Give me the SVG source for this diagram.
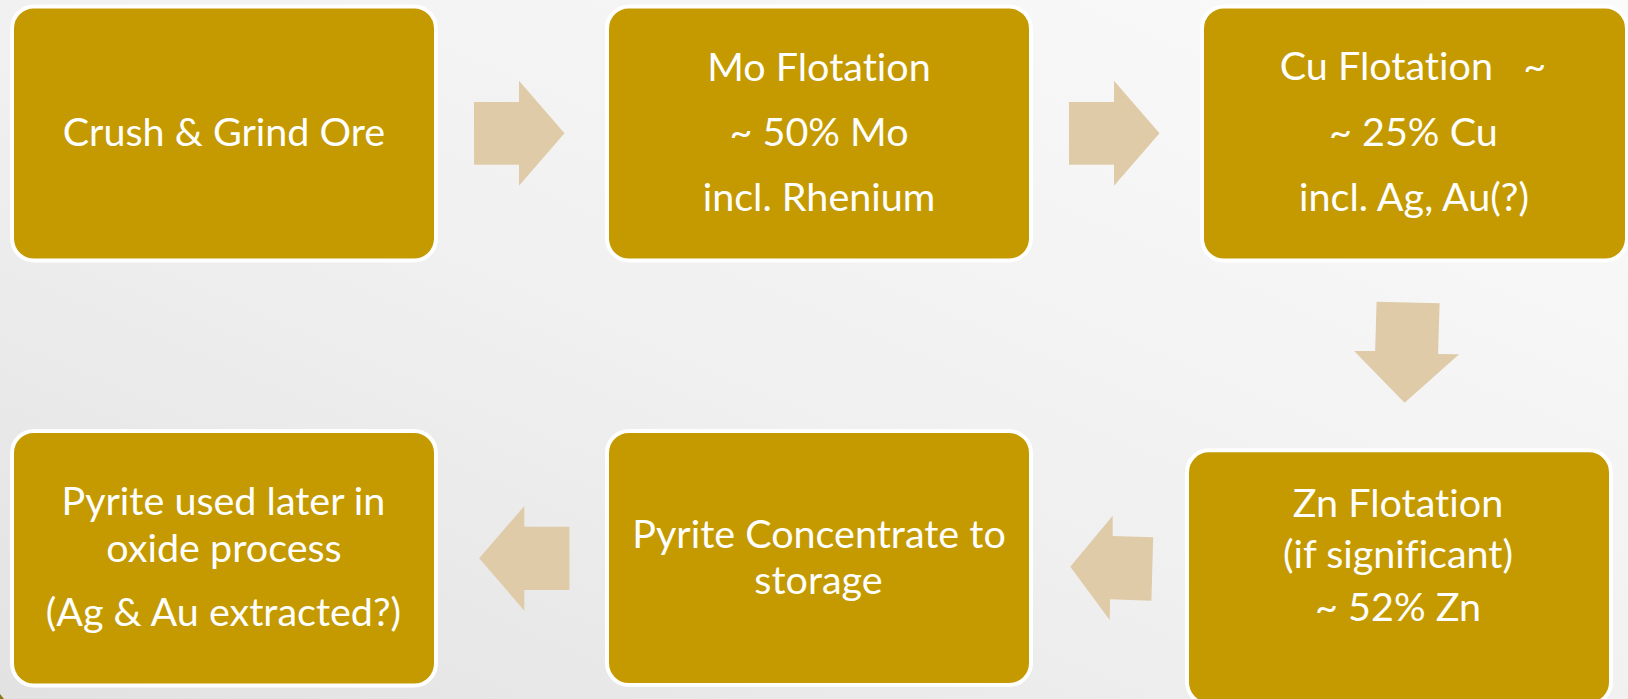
<svg xmlns="http://www.w3.org/2000/svg" width="1628" height="699" viewBox="0 0 1628 699">
  <defs>
    <linearGradient id="bg" x1="1" y1="0" x2="0" y2="1">
      <stop offset="0" stop-color="#fbfbfb"/>
      <stop offset="0.55" stop-color="#f0f0f0"/>
      <stop offset="1" stop-color="#e2e2e2"/>
    </linearGradient>
    <style>
      .box { fill: #c49a00; stroke: #ffffff; stroke-width: 4; }
      .lbl { font-family: Lato, "Open Sans", "DejaVu Sans", sans-serif; font-size: 39.5px; fill: #ffffff; text-anchor: middle; white-space: pre; font-variant-ligatures: none; font-feature-settings: "liga" 0, "clig" 0; }
      .arrow { fill: #e0cba9; stroke: none; }
    </style>
  </defs>

  <!-- slide background -->
  <rect x="0" y="0" width="1628" height="699" fill="url(#bg)"/>
  <path d="M0 694 L4 699 L0 699 Z" fill="#8c7a12"/>

  <!-- process connectors -->
  <g id="connectors">
    <polygon class="arrow" points="474,102 519,102 519,80.7 564.5,133.3 519,185.7 519,164.7 474,164.7"/>
    <polygon class="arrow" points="1069,102 1114,102 1114,80.7 1159.5,133.3 1114,185.7 1114,164.7 1069,164.7"/>
    <polygon class="arrow" points="1376.6,301.7 1439.6,303.3 1438.1,354 1459.1,354.3 1404.6,402.7 1354.1,351 1375.1,351"/>
    <polygon class="arrow" points="1153.2,537.3 1151.4,600.7 1110.1,599.3 1109.7,620 1070.3,566.7 1112.7,515.7 1112.7,536"/>
    <polygon class="arrow" points="569.4,526.7 569.4,590 524.3,590 524.3,610.7 479.2,558.3 524.3,506 524.3,526.7"/>
  </g>

  <!-- process steps -->
  <g id="crush-grind">
    <rect class="box" x="12" y="6.5" width="424" height="254" rx="22"/>
    <text class="lbl" x="224" y="146">Crush &amp; Grind Ore</text>
  </g>

  <g id="mo-flotation">
    <rect class="box" x="607" y="6.5" width="424" height="254" rx="22"/>
    <text class="lbl" x="819" y="81">Mo Flotation</text>
    <text class="lbl" x="819" y="145.7">~ 50% Mo</text>
    <text class="lbl" x="819" y="211">incl. Rhenium</text>
  </g>

  <g id="cu-flotation">
    <rect class="box" x="1202" y="6.5" width="425" height="254" rx="22"/>
    <text class="lbl" x="1413" y="80">Cu Flotation   ~</text>
    <text class="lbl" x="1413.4" y="145.7">~ 25% Cu</text>
    <text class="lbl" x="1414" y="211">incl. Ag, Au(?)</text>
  </g>

  <g id="zn-flotation">
    <rect class="box" x="1187" y="450.3" width="424" height="254" rx="22"/>
    <text class="lbl" x="1398" y="516.7">Zn Flotation</text>
    <text class="lbl" x="1398" y="568.3">(if significant)</text>
    <text class="lbl" x="1398" y="620.7">~ 52% Zn</text>
  </g>

  <g id="pyrite-storage">
    <rect class="box" x="607" y="431" width="424" height="254" rx="22"/>
    <text class="lbl" x="819" y="547.7">Pyrite Concentrate to</text>
    <text class="lbl" x="818.5" y="594">storage</text>
  </g>

  <g id="pyrite-oxide">
    <rect class="box" x="12" y="431" width="424" height="254.5" rx="22"/>
    <text class="lbl" x="223.4" y="515">Pyrite used later in</text>
    <text class="lbl" x="224" y="561.7">oxide process</text>
    <text class="lbl" x="223.4" y="626">(Ag &amp; Au extracted?)</text>
  </g>
</svg>
